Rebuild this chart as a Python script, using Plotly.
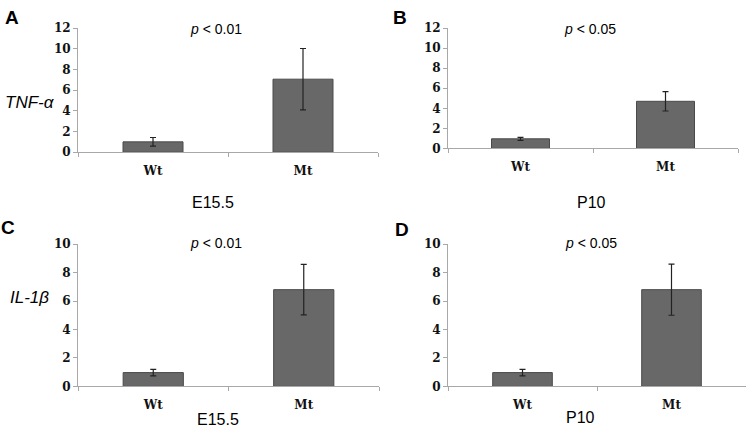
import plotly.graph_objects as go

W, H = 755, 435

categories = ["Wt", "Mt"]
tnf_e155 = [1.0, 7.07]
tnf_e155_err = [0.42, 2.97]
tnf_p10 = [0.95, 4.7]
tnf_p10_err = [0.15, 0.97]
il1b_e155 = [0.97, 6.8]
il1b_e155_err = [0.23, 1.78]
il1b_p10 = [0.97, 6.8]
il1b_p10_err = [0.23, 1.8]

panel_letters = ["A", "B", "C", "D"]
p_texts = ["p < 0.01", "p < 0.05", "p < 0.01", "p < 0.05"]
stage_labels = ["E15.5", "P10", "E15.5", "P10"]
gene_labels = ["TNF-α", "IL-1β"]
y_max = [12, 12, 10, 10]

def fx(px):
    return px / W

def fy(py):
    return 1 - py / H

# pixel boxes: (x0, x1, ybottom, ytop)
boxes = [
    (78, 378, 150, 22),
    (448, 738, 146, 22),
    (78, 379, 392, 245),
    (448, 746, 392, 245),
]

series = [(tnf_e155, tnf_e155_err), (tnf_p10, tnf_p10_err),
          (il1b_e155, il1b_e155_err), (il1b_p10, il1b_p10_err)]

fig = go.Figure()
axis_color = "#a8a8a8"
tick_font = dict(family="DejaVu Serif", size=12, color="#111", weight="bold")

for i, ((vals, errs), box) in enumerate(zip(series, boxes)):
    n = "" if i == 0 else str(i + 1)
    fig.add_trace(go.Bar(
        x=categories, y=vals, width=0.4,
        marker=dict(color="#686868", line=dict(color="#4a4a4a", width=1)),
        error_y=dict(type="data", array=errs, visible=True, color="#222",
                     thickness=1.2, width=3),
        xaxis="x" + n, yaxis="y" + n, showlegend=False,
    ))
    x0, x1, yb, yt = box
    fig.layout["xaxis" + n] = dict(
        domain=[fx(x0), fx(x1)], anchor="y" + n, type="category",
        range=[-0.5, 1.5], showline=True, linecolor=axis_color, linewidth=1,
        ticks="outside", tickson="boundaries", ticklen=4, tickcolor=axis_color,
        showgrid=False, zeroline=False, tickfont=tick_font, ticklabelstandoff=7,
    )
    fig.layout["yaxis" + n] = dict(
        domain=[fy(yb), fy(yt)], anchor="x" + n, range=[0, y_max[i]],
        dtick=2, showline=True, linecolor=axis_color, linewidth=1,
        ticks="outside", ticklen=4, tickcolor=axis_color,
        showgrid=False, zeroline=False, tickfont=tick_font,
    )

annots = []
letter_pos = [(12, 11), (400, 11), (8, 228), (402, 230)]
p_pos = [(216, 23), (590, 23), (216, 244), (591, 244)]
stage_pos = [(213, 202), (591, 202), (218, 426), (580, 424)]
gene_pos = [(3, 99), (8, 300)]

for i in range(4):
    annots.append(dict(x=fx(letter_pos[i][0]), y=fy(letter_pos[i][1]), xref="paper", yref="paper",
                       text="<b>" + panel_letters[i] + "</b>", showarrow=False,
                       xanchor="center", yanchor="middle",
                       font=dict(family="Liberation Sans", size=19, color="#000")))
    pt = p_texts[i]
    annots.append(dict(x=fx(p_pos[i][0]), y=fy(p_pos[i][1]), xref="paper", yref="paper",
                       text="<i>" + pt[0] + "</i>" + pt[1:].replace("<", "&lt;"), showarrow=False,
                       xanchor="center", yanchor="middle",
                       font=dict(family="Liberation Sans", size=14, color="#000")))
    annots.append(dict(x=fx(stage_pos[i][0]), y=fy(stage_pos[i][1]), xref="paper", yref="paper",
                       text=stage_labels[i], showarrow=False,
                       xanchor="center", yanchor="middle",
                       font=dict(family="Liberation Sans", size=16, color="#000")))
for j in range(2):
    annots.append(dict(x=fx(gene_pos[j][0]), y=fy(gene_pos[j][1]), xref="paper", yref="paper",
                       text="<i>" + gene_labels[j] + "</i>", showarrow=False,
                       xanchor="left", yanchor="middle",
                       font=dict(family="Liberation Sans", size=17, color="#000")))

fig.update_layout(
    width=W, height=H, margin=dict(l=0, r=0, t=0, b=0),
    paper_bgcolor="white", plot_bgcolor="white",
    annotations=annots, bargap=0.6,
)

fig.write_html("out.html", config={"displayModeBar": False},
               post_script="document.body.style.margin='0';")
